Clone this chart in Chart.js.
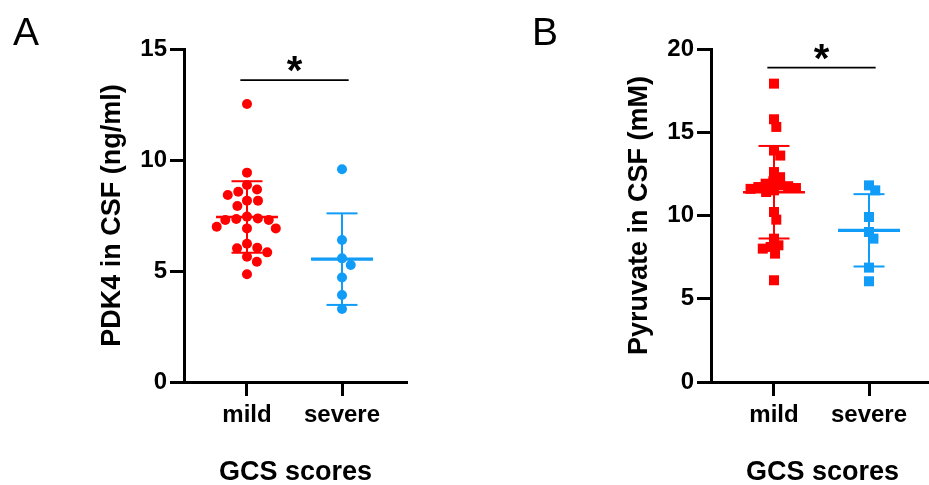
<!DOCTYPE html>
<html>
<head>
<meta charset="utf-8">
<script src="https://cdn.jsdelivr.net/npm/chart.js@4.4.1/dist/chart.umd.min.js"></script>
<style>
  html, body { margin: 0; padding: 0; background: #fff; overflow: hidden; width: 929px; height: 485px; }
  canvas { position: absolute; top: 0; }
</style>
</head>
<body>
<canvas id="chartA" width="420" height="485" style="left:0px"></canvas>
<canvas id="chartB" width="420" height="485" style="left:527px"></canvas>
<script>
// Datos
const groups = ['mild', 'severe'];
const pdk4Mild = [12.52, 9.43, 8.87, 8.67, 8.57, 8.42, 8.17, 8.17, 7.93, 7.45, 7.37, 7.34,
                  7.30, 7.30, 6.99, 6.92, 6.92, 6.23, 6.05, 6.02, 5.84, 5.64, 5.42, 4.85];
const pdk4Severe = [9.58, 6.40, 5.57, 5.27, 4.71, 3.92, 3.29];
const pyruvateMild = [17.92, 15.78, 15.32, 13.9, 13.6, 12.61, 12.3, 12.05, 11.91, 11.81, 11.76, 11.71,
                      11.65, 11.6, 11.51, 11.41, 10.21, 9.75, 8.61, 8.21, 8.11, 8.01, 7.71, 6.11];
const pyruvateSevere = [11.81, 11.51, 9.91, 9.01, 8.61, 6.87, 6.05];
const pdk4Ticks = [0, 5, 10, 15];
const pyruvateTicks = [0, 5, 10, 15, 20];
const pdk4Bracket = 13.6;
const pyruvateBracket = 18.88;

const RED = '#ff0000';
const BLUE = 'rgb(16, 156, 247)';
const FONT = '"Liberation Sans", Arial, Helvetica, sans-serif';
Chart.defaults.font.family = FONT;
Chart.defaults.color = '#000';

const xMin = 0.337, xMax = 2.684;

function meanSd(vals) {
  const m = vals.reduce((a, b) => a + b, 0) / vals.length;
  const v = vals.reduce((a, b) => a + (b - m) * (b - m), 0) / (vals.length - 1);
  return { mean: m, sd: Math.sqrt(v) };
}

function lineSet(pts, color, w) {
  return { data: pts, showLine: true, borderColor: color, borderWidth: w, pointRadius: 0, fill: false, order: 2 };
}

// media +- DE como lineas
function errorSets(x, vals, color, meanWidth) {
  const { mean, sd } = meanSd(vals);
  return [
    lineSet([{ x: x - 0.326, y: mean }, { x: x + 0.326, y: mean }], color, meanWidth),
    lineSet([{ x: x, y: mean - sd }, { x: x, y: mean + sd }], color, 2),
    lineSet([{ x: x - 0.163, y: mean + sd }, { x: x + 0.163, y: mean + sd }], color, 2),
    lineSet([{ x: x - 0.163, y: mean - sd }, { x: x + 0.163, y: mean - sd }], color, 2)
  ];
}

// beeswarm simple en pixeles
function swarm(values, center, xs, ys, diameter) {
  const pxPerX = xs.getPixelForValue(1) - xs.getPixelForValue(0);
  const placed = [];
  const out = new Array(values.length);
  const idx = values.map((v, i) => i).sort((a, b) => values[b] - values[a]);
  idx.forEach(i => {
    const py = ys.getPixelForValue(values[i]);
    const near = placed.filter(p => Math.abs(p.y - py) < diameter);
    const cands = [0];
    near.forEach(p => {
      const dx = Math.sqrt(diameter * diameter - (p.y - py) * (p.y - py));
      cands.push(p.x + dx, p.x - dx);
    });
    cands.sort((a, b) => Math.abs(a) - Math.abs(b));
    const px = cands.find(c => near.every(p => (p.x - c) ** 2 + (p.y - py) ** 2 >= diameter * diameter - 0.01));
    placed.push({ x: px, y: py });
    out[i] = center + px / pxPerX;
  });
  return out;
}

const annotate = {
  id: 'annotate',
  afterDraw(chart, args, o) {
    const ctx = chart.ctx;
    const { x, y } = chart.scales;
    ctx.save();
    ctx.fillStyle = '#000';
    ctx.textBaseline = 'alphabetic';
    ctx.textAlign = 'left';
    ctx.font = '39px ' + FONT;
    ctx.fillText(o.letter, o.letterX, 45);
    ctx.textAlign = 'center';
    ctx.font = 'bold 40px ' + FONT;
    ctx.fillText('*', x.getPixelForValue(1.5), y.getPixelForValue(o.bracket) + 4);
    ctx.restore();
  }
};

function makeChart(id, opt) {
  const pointSet = (vals, x, color) => ({
    data: vals.map(v => ({ x: x, y: v })),
    pointStyle: opt.marker, pointRadius: opt.radius, pointHoverRadius: opt.radius,
    backgroundColor: color, borderWidth: 0, showLine: false, order: 0
  });
  const datasets = [
    pointSet(opt.mild, 1, RED),
    pointSet(opt.severe, 2, BLUE),
    ...errorSets(1, opt.mild, RED, 2.5),
    ...errorSets(2, opt.severe, BLUE, 3.2),
    lineSet([{ x: 0.93, y: opt.bracket }, { x: 2.07, y: opt.bracket }], '#000', 1.6)
  ];
  const axisGrid = { drawOnChartArea: false, drawTicks: true, tickLength: 14, tickWidth: 3, tickColor: '#000' };
  const axisBorder = { display: true, color: '#000', width: 3 };
  const chart = new Chart(document.getElementById(id), {
    type: 'scatter',
    data: { datasets },
    options: {
      responsive: false, animation: false, devicePixelRatio: 1,
      layout: { padding: { left: 0, top: 49, right: 13, bottom: 0 } },
      plugins: { legend: { display: false }, tooltip: { enabled: false },
                 annotate: { letter: opt.letter, letterX: opt.letterX, bracket: opt.bracket } },
      scales: {
        x: {
          type: 'linear', min: xMin, max: xMax,
          afterBuildTicks: s => { s.ticks = groups.map((g, i) => ({ value: i + 1 })); },
          afterFit: s => { s.height = 103; },
          ticks: { callback: v => groups[v - 1], color: '#000', font: { size: 24, weight: 'bold' }, padding: 5, autoSkip: false, maxRotation: 0 },
          grid: axisGrid, border: axisBorder,
          title: { display: true, text: 'GCS scores', color: '#000', font: { size: 27, weight: 'bold', lineHeight: 1 }, padding: { top: 0, bottom: -1 } }
        },
        y: {
          min: 0, max: opt.ticks[opt.ticks.length - 1],
          afterBuildTicks: s => { s.ticks = opt.ticks.map(v => ({ value: v })); },
          afterFit: s => { s.width = 184; },
          ticks: { color: '#000', font: { size: 24, weight: 'bold' }, padding: 3 },
          grid: axisGrid, border: axisBorder,
          title: { display: true, text: opt.yTitle, color: '#000', font: { size: 27, weight: 'bold', lineHeight: 1 }, padding: { top: 99.5, bottom: 0 } }
        }
      }
    },
    plugins: [annotate]
  });
  const xs = chart.scales.x, ys = chart.scales.y;
  const mx = swarm(opt.mild, 1, xs, ys, opt.spread);
  const sx = swarm(opt.severe, 2, xs, ys, opt.spread);
  chart.data.datasets[0].data = opt.mild.map((v, i) => ({ x: mx[i], y: v }));
  chart.data.datasets[1].data = opt.severe.map((v, i) => ({ x: sx[i], y: v }));
  chart.update('none');
  return chart;
}

makeChart('chartA', {
  letter: 'A', letterX: 13, yTitle: 'PDK4 in CSF (ng/ml)', ticks: pdk4Ticks,
  mild: pdk4Mild, severe: pdk4Severe, bracket: pdk4Bracket, marker: 'circle', radius: 5, spread: 11
});
makeChart('chartB', {
  letter: 'B', letterX: 5, yTitle: 'Pyruvate in CSF (mM)', ticks: pyruvateTicks,
  mild: pyruvateMild, severe: pyruvateSevere, bracket: pyruvateBracket, marker: 'rect', radius: 7.07, spread: 8
});
</script>
</body>
</html>
